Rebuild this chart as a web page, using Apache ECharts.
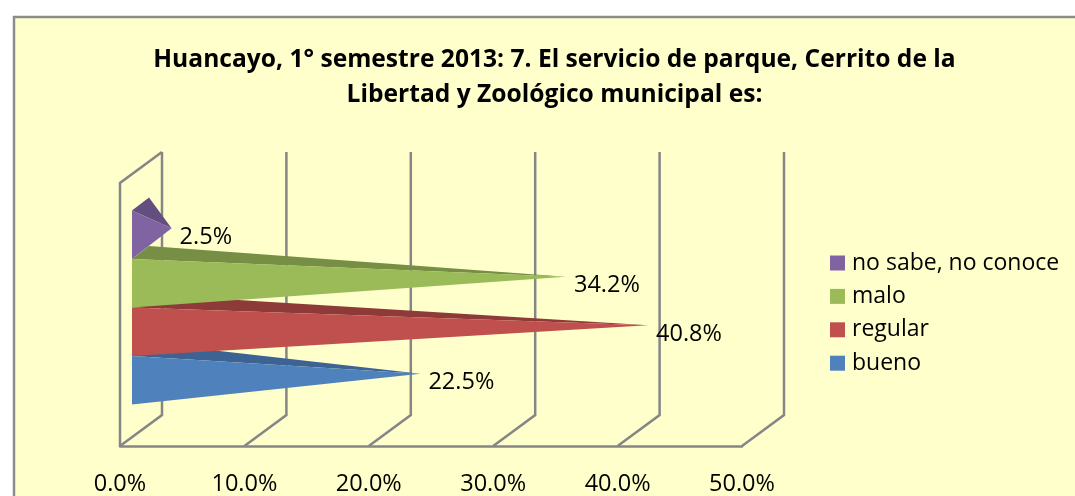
<!DOCTYPE html>
<html>
<head>
<meta charset="utf-8">
<style>
  html, body { margin: 0; padding: 0; background: #fff; }
  #chart { width: 1075px; height: 496px; }
</style>
<script src="https://cdn.jsdelivr.net/npm/echarts@6/dist/echarts.min.js"></script>
</head>
<body>
<div id="chart"></div>
<script>
const titleText = 'Huancayo, 1° semestre 2013: 7. El servicio de parque, Cerrito de la\nLibertad y Zoológico municipal es:'
// 从下到上的顺序，后画的盖住先画的
const categories = ['bueno', 'regular', 'malo', 'no sabe, no conoce']
const values = [22.5, 40.8, 34.2, 2.5]
const frontColors = ['#4F81BD', '#C0504D', '#9BBB59', '#8064A2']
const topColors = ['#3D6394', '#8E3A38', '#778F44', '#644E80']
const ticks = [0, 10, 20, 30, 40, 50]

const fontName = '"Open Sans", sans-serif'
const lineColor = '#868686'
// 立体效果的偏移量
const wallX = 42
const wallY = 31
const baseX = 12
const depthX = 17
const depthY = 13

const myChart = echarts.init(document.getElementById('chart'))

// 背面网格线和左侧面
function renderWall(params, api) {
  const bottom = api.coord([api.value(0), 0])
  const x = bottom[0]
  const y = bottom[1]
  const top = params.coordSys.y
  const children = [
    {
      type: 'polyline',
      shape: { points: [[x, y], [x + wallX, y - wallY], [x + wallX, top - wallY]] },
      style: { stroke: lineColor, lineWidth: 2.5, fill: 'none' },
    },
  ]
  if (api.value(0) === 0) {
    children.push({
      type: 'polyline',
      shape: { points: [[x, y], [x, top], [x + wallX, top - wallY]] },
      style: { stroke: lineColor, lineWidth: 2.5, fill: 'none' },
    })
  }
  return { type: 'group', children }
}

// 横向棱锥：前面 + 上面 + 数值文字
function renderPyramid(params, api) {
  const value = api.value(0)
  const center = api.coord([0, api.value(1)])
  const band = api.size([0, 1])[1]
  const bx = center[0] + baseX
  const y0 = center[1] - band / 2
  const y1 = center[1] + band / 2
  const tip = api.coord([value, api.value(1)])
  const ax = tip[0] + baseX + depthX / 2
  const ay = tip[1] - depthY / 2
  const i = params.seriesIndex - 1
  return {
    type: 'group',
    children: [
      {
        type: 'polygon',
        shape: { points: [[bx, y0], [bx + depthX, y0 - depthY], [ax, ay]] },
        style: { fill: topColors[i] },
      },
      {
        type: 'polygon',
        shape: { points: [[bx, y0], [bx, y1], [ax, ay]] },
        style: { fill: frontColors[i] },
      },
      {
        type: 'text',
        style: {
          text: value.toFixed(1) + '%',
          x: ax + 8,
          y: ay + 9,
          fill: '#000',
          font: '23.5px ' + fontName,
          textVerticalAlign: 'middle',
        },
      },
    ],
  }
}

const option = {
  animation: false,
  backgroundColor: '#fff',
  graphic: [
    {
      type: 'rect',
      z: -1,
      shape: { x: 14, y: 17, width: 1200, height: 600 },
      style: { fill: '#FFFFCB', stroke: '#8C8C8C', lineWidth: 2.5 },
    },
  ],
  title: {
    text: titleText,
    left: 549.5,
    top: 37,
    textAlign: 'center',
    textStyle: {
      fontFamily: fontName,
      fontSize: 24.6,
      fontWeight: 'bold',
      lineHeight: 35,
      color: '#000',
    },
  },
  legend: {
    orient: 'vertical',
    left: 825,
    top: 245,
    data: categories.slice().reverse(),
    icon: 'rect',
    itemWidth: 15,
    itemHeight: 15,
    itemGap: 7.4,
    textStyle: { fontFamily: fontName, fontSize: 23, color: '#000', padding: [0, 0, 0, 2], lineHeight: 26 },
  },
  grid: [
    { left: 120, width: 622, top: 183, height: 267 },
    { left: 120, width: 622, top: 210.5, height: 194 },
  ],
  xAxis: [
    {
      type: 'value',
      gridIndex: 0,
      min: 0,
      max: 50,
      interval: 10,
      splitLine: { show: false },
      axisTick: { show: false },
      axisLine: { show: true, lineStyle: { color: lineColor, width: 2.5 } },
      axisLabel: {
        margin: 26,
        fontFamily: fontName,
        fontSize: 23.5,
        color: '#000',
        formatter: (v) => v.toFixed(1) + '%',
      },
    },
    { type: 'value', gridIndex: 1, min: 0, max: 50, show: false },
  ],
  yAxis: [
    { type: 'value', gridIndex: 0, min: 0, max: 1, show: false },
    { type: 'category', gridIndex: 1, data: categories, show: false },
  ],
  series: [
    {
      name: 'wall',
      type: 'custom',
      xAxisIndex: 0,
      yAxisIndex: 0,
      silent: true,
      clip: false,
      renderItem: renderWall,
      encode: { x: 0, y: 1 },
      data: ticks.map((t) => [t, 0]),
    },
  ].concat(
    categories.map((name, i) => ({
      name,
      type: 'custom',
      xAxisIndex: 1,
      yAxisIndex: 1,
      clip: false,
      renderItem: renderPyramid,
      encode: { x: 0, y: 1 },
      itemStyle: { color: frontColors[i] },
      data: [[values[i], i]],
    }))
  ),
}

myChart.setOption(option)
</script>
</body>
</html>
